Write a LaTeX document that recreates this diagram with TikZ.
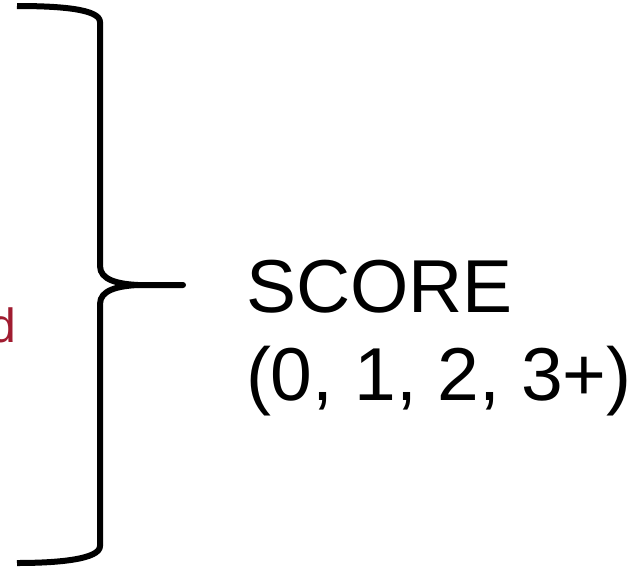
\documentclass[tikz,border=0pt]{standalone}
\usepackage{fontspec}
\setmainfont{Liberation Sans}
\definecolor{darkred}{HTML}{A01C30}
\begin{document}
\begin{tikzpicture}[x=1pt,y=-1pt,
  bigtext/.style={inner sep=0pt,outer sep=0pt,font=\fontsize{75}{88}\selectfont},
  redtext/.style={inner sep=0pt,outer sep=0pt,text=darkred,font=\fontsize{48}{56}\selectfont},
  bracestyle/.style={line width=6pt,line join=round}]
\useasboundingbox (0,0) rectangle (638,566);
\clip (0,0) rectangle (638,566);
\coordinate (tip) at (183,285);
\draw[bracestyle] (17,6) .. controls (60,6) and (100,9) .. (100,22) -- (100,266)
  .. controls (100,280) and (118,284) .. (138,285) -- (tip);
\draw[bracestyle] (138,285) .. controls (118,286) and (100,290) .. (100,304) -- (100,546)
  .. controls (100,559) and (60,563) .. (17,563);
\draw[line width=6pt,line cap=round] (180,285) -- (tip);
\node[bigtext,anchor=base west] (score) at (246,312) {SCORE};
\node[bigtext,anchor=base west] (range) at (246,400) {(0, 1, 2, 3+)};
\node[redtext,anchor=base east] (red) at (16,342) {d};
\end{tikzpicture}
\end{document}
